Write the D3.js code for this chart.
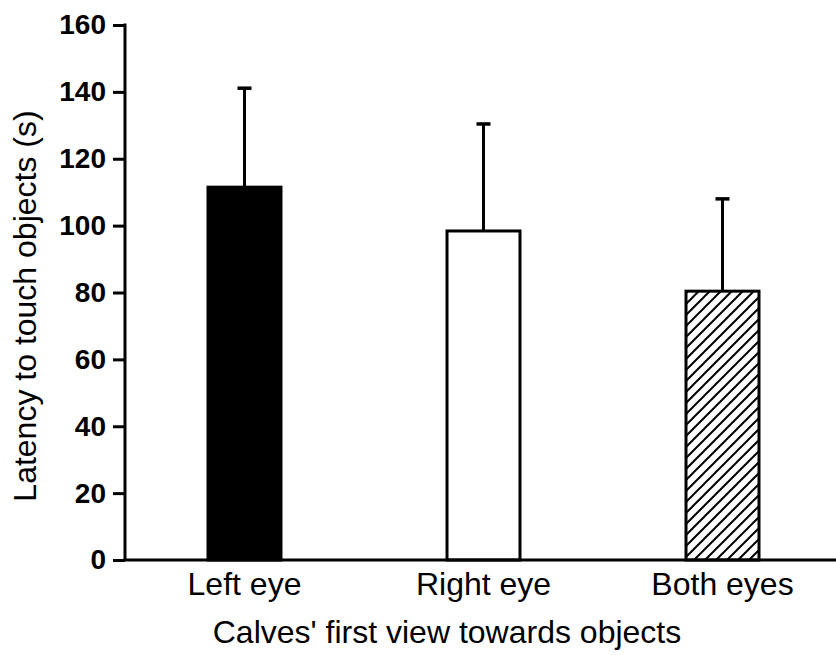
<!DOCTYPE html>
<html lang="en">
<head>
  <meta charset="UTF-8" />
  <title>Latency to touch objects</title>
  <script src="https://d3js.org/d3.v7.min.js"></script>
  <style>
    body { margin: 0; background: #fff; }
    svg { display: block; font-family: Arial, "Liberation Sans", sans-serif; }
    .tick-label { font-size: 28px; font-weight: bold; fill: #000; }
    .cat-label { font-size: 32px; fill: #000; }
    .axis-title { font-size: 32px; fill: #000; }
  </style>
</head>
<body>
  <svg id="chart" width="836" height="655"></svg>
  <script>
    // values
    const categories = ["Left eye", "Right eye", "Both eyes"];
    const means = [111.5, 98.4, 80.4];
    const errors = [29.9, 32.3, 27.9];
    const fills = ["solid", "open", "hatch"];
    const yTicks = [0, 20, 40, 60, 80, 100, 120, 140, 160];

    const svg = d3.select("#chart");
    const plotLeft = 125, plotRight = 842, plotTop = 25, plotBottom = 560;

    const x = d3.scaleBand().domain(categories).range([plotLeft, plotRight])
      .paddingInner(0.6946).paddingOuter(0.3473);
    const y = d3.scaleLinear().domain([0, 160]).range([plotBottom, plotTop]);

    // diagonal hatch for the third bar
    const defs = svg.append("defs");
    defs.append("pattern")
      .attr("id", "hatch")
      .attr("patternUnits", "userSpaceOnUse")
      .attr("width", 11).attr("height", 11)
      .append("path")
      .attr("d", "M0,11 L11,0 M-2.75,2.75 L2.75,-2.75 M8.25,13.75 L13.75,8.25")
      .attr("stroke", "#000").attr("stroke-width", 2);

    // bars
    const data = categories.map((c, i) => ({ c, m: means[i], e: errors[i], f: fills[i] }));

    svg.selectAll(".bar")
      .data(data)
      .enter()
      .append("rect")
      .attr("class", "bar")
      .attr("x", d => x(d.c))
      .attr("y", d => y(d.m))
      .attr("width", x.bandwidth())
      .attr("height", d => y(0) - y(d.m))
      .attr("fill", d => d.f === "solid" ? "#000" : d.f === "hatch" ? "url(#hatch)" : "#fff")
      .attr("stroke", "#000")
      .attr("stroke-width", 3);

    // error bars (upper only)
    const cx = d => x(d.c) + x.bandwidth() / 2;
    svg.selectAll(".err")
      .data(data)
      .enter()
      .append("line")
      .attr("x1", cx).attr("x2", cx)
      .attr("y1", d => y(d.m))
      .attr("y2", d => y(d.m + d.e))
      .attr("stroke", "#000").attr("stroke-width", 3);

    svg.selectAll(".cap")
      .data(data)
      .enter()
      .append("line")
      .attr("x1", d => cx(d) - 7).attr("x2", d => cx(d) + 7)
      .attr("y1", d => y(d.m + d.e) + 1)
      .attr("y2", d => y(d.m + d.e) + 1)
      .attr("stroke", "#000").attr("stroke-width", 3.5);

    // y axis
    const yAxis = svg.append("g").attr("transform", `translate(${plotLeft},0)`)
      .call(d3.axisLeft(y).tickValues(yTicks).tickSize(12).tickPadding(7).tickSizeOuter(0));
    yAxis.select(".domain").attr("stroke-width", 3).attr("d", `M0,${plotTop - 1.5}V${plotBottom}`);
    yAxis.selectAll(".tick line").attr("stroke-width", 3);
    yAxis.selectAll(".tick text").attr("class", "tick-label");
    yAxis.attr("font-family", null).attr("font-size", null);

    // x axis baseline
    svg.append("line")
      .attr("x1", plotLeft - 1.5).attr("x2", 836)
      .attr("y1", y(0)).attr("y2", y(0))
      .attr("stroke", "#000").attr("stroke-width", 3);

    // category labels
    svg.selectAll(".cat-label")
      .data(categories)
      .enter()
      .append("text")
      .attr("class", "cat-label")
      .attr("x", d => x(d) + x.bandwidth() / 2)
      .attr("y", 595)
      .attr("text-anchor", "middle")
      .text(d => d);

    // axis titles
    svg.append("text")
      .attr("class", "axis-title")
      .attr("x", 447).attr("y", 643)
      .attr("text-anchor", "middle")
      .text("Calves' first view towards objects");

    svg.append("text")
      .attr("class", "axis-title")
      .attr("transform", "translate(36,306) rotate(-90)")
      .attr("text-anchor", "middle")
      .text("Latency to touch objects (s)");
  </script>
</body>
</html>
